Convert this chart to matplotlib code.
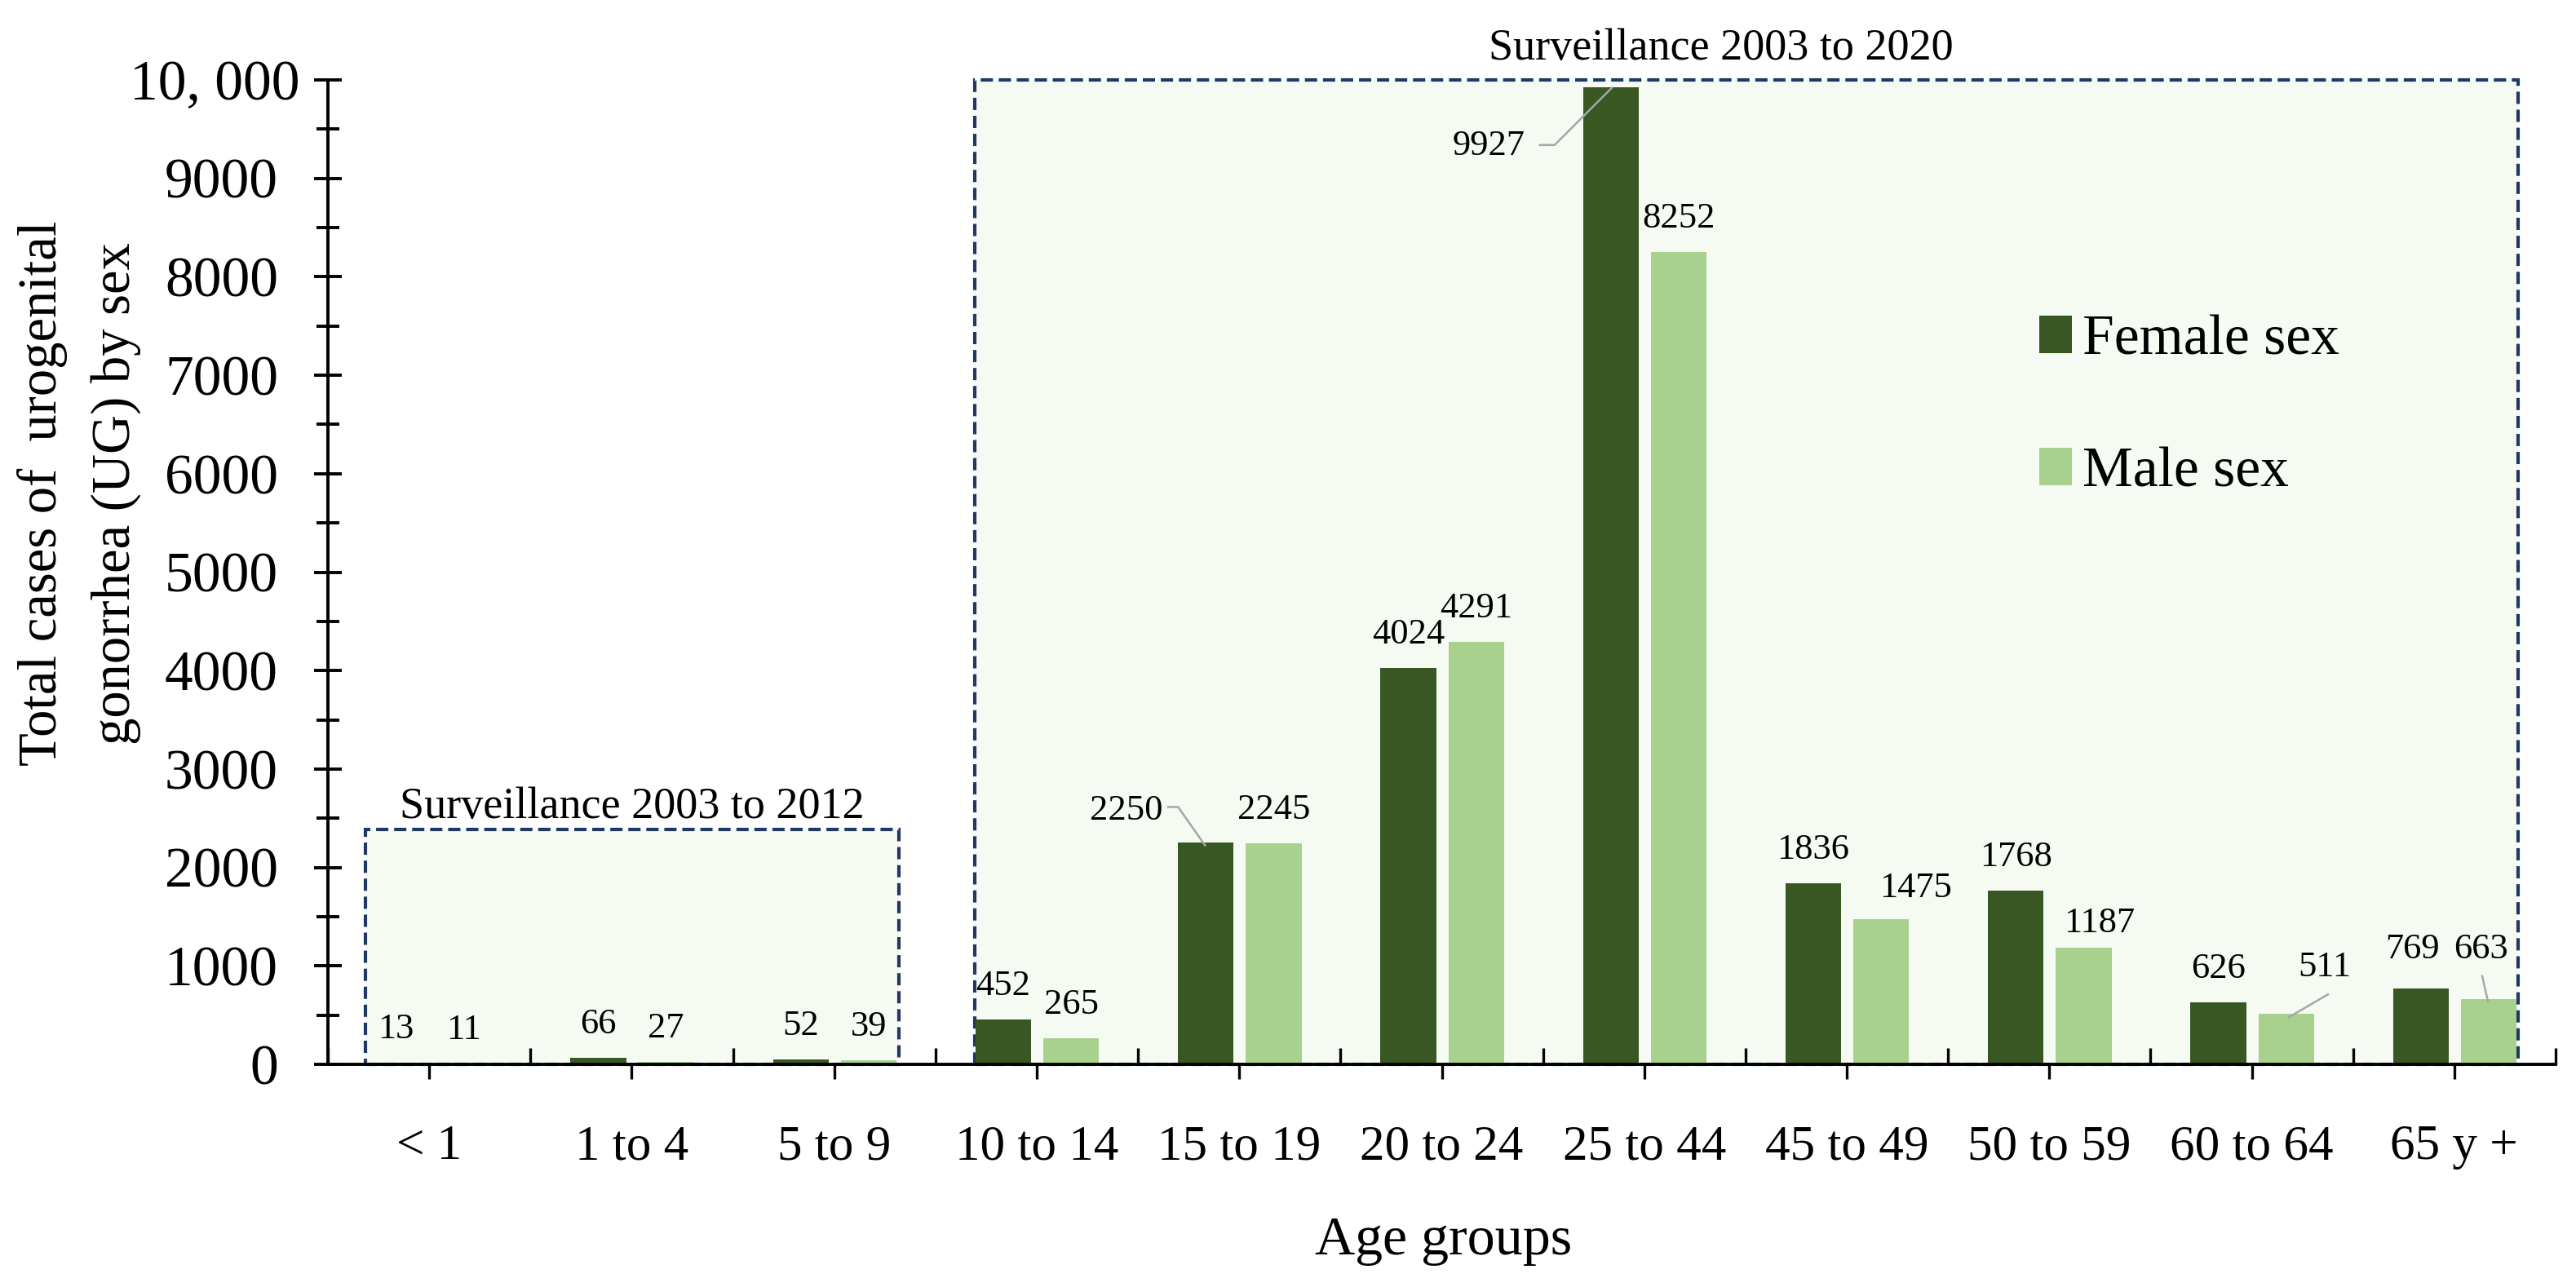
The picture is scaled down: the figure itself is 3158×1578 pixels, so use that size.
import matplotlib
matplotlib.use('Agg')
import matplotlib.pyplot as plt
import matplotlib.transforms as mtransforms
from matplotlib.patches import Rectangle
from matplotlib.lines import Line2D
from matplotlib.ticker import FixedLocator, MultipleLocator
import numpy as np

plt.rcParams['font.family'] = ['Liberation Serif', 'DejaVu Serif']

# ---------------- data ----------------
categories = ['< 1', '1 to 4', '5 to 9', '10 to 14', '15 to 19', '20 to 24',
              '25 to 44', '45 to 49', '50 to 59', '60 to 64', '65 y +']
female = [13, 66, 52, 452, 2250, 4024, 9927, 1836, 1768, 626, 769]
male = [11, 27, 39, 265, 2245, 4291, 8252, 1475, 1187, 511, 663]
yticks = [0, 1000, 2000, 3000, 4000, 5000, 6000, 7000, 8000, 9000, 10000]
ytick_labels = ['0', '1000', '2000', '3000', '4000', '5000', '6000', '7000',
                '8000', '9000', '10, 000']
series_names = ['Female sex', 'Male sex']
box_titles = ['Surveillance 2003 to 2012', 'Surveillance 2003 to 2020']

# ---------------- style ----------------
F_COLOR = '#385723'
M_COLOR = '#A9D18E'
BOX_EDGE = '#1F3864'
BOX_FILL = '#F5FAF2'
LEADER = '#A6A6A6'

DPI = 200
W, H = 3158, 1578
PT = 72.0 / DPI  # points per pixel

fig = plt.figure(figsize=(W / DPI, H / DPI), dpi=DPI)
fig.patch.set_facecolor('white')
ax = fig.add_axes([402 / W, 1 - 1305 / H, (3133 - 402) / W, (1305 - 98) / H])
ax.set_facecolor('none')

x = np.arange(len(categories))
off_f, off_m, bw = -0.165, 0.17, 0.275
ax.bar(x + off_f, female, bw, color=F_COLOR, zorder=3, label=series_names[0])
ax.bar(x + off_m, male, bw, color=M_COLOR, zorder=3, label=series_names[1])

# dashed surveillance boxes
dash = (0, (3.6, 1.7))
ax.add_patch(Rectangle((-0.315, 0), 2.32 + 0.315, 2390, facecolor=BOX_FILL,
                       edgecolor=BOX_EDGE, lw=1.5, linestyle=dash, zorder=1,
                       clip_on=False))
ax.add_patch(Rectangle((2.694, 0), 10.313 - 2.694, 10000, facecolor=BOX_FILL,
                       edgecolor=BOX_EDGE, lw=1.5, linestyle=dash, zorder=1,
                       clip_on=False))
ax.text((-0.315 + 2.32) / 2, 2502, box_titles[0], ha='center', va='baseline',
        fontsize=19.5)
ax.text(6.379, 10207, box_titles[1], ha='center', va='baseline', fontsize=19.5)

# value labels: default 30 px above bar top, centered
custom = {
    ('f', 4): (-53, 28, 'right'),
    ('f', 6): (-105, -83, 'right'),
    ('m', 9): (47, 46, 'center'),
    ('m', 10): (-10, 50, 'center'),
    ('f', 10): (-10, 37, 'center'),
    ('m', 7): (42, 27, 'center'),
    ('m', 8): (19, 19, 'center'),
}
leaders = {
    ('f', 4): [(-46, 44), (-34, 44), (-1, -3)],
    ('f', 6): [(-87, -71), (-69, -71), (1, -1)],
    ('m', 9): [(51, 24), (3, -4)],
    ('m', 10): [(-8, 28), (-1, -3)],
}

for key, vals, off in (('f', female, off_f), ('m', male, off_m)):
    for i, v in enumerate(vals):
        dx, dy, ha = custom.get((key, i), (0, 30, 'center'))
        ax.annotate(str(v), xy=(i + off, v), xytext=(dx * PT, dy * PT),
                    textcoords='offset points', ha=ha, va='baseline',
                    fontsize=16, zorder=5)
        if (key, i) in leaders:
            pts = leaders[(key, i)]
            tr = fig.dpi_scale_trans + mtransforms.ScaledTranslation(
                i + off, v, ax.transData)
            ax.add_line(Line2D([p[0] / DPI for p in pts],
                               [p[1] / DPI for p in pts],
                               transform=tr, color=LEADER, lw=0.9,
                               zorder=6, clip_on=False))

# axes limits & ticks
ax.set_xlim(-0.5, len(categories) - 0.5)
ax.set_ylim(0, 10000)
for s in ('top', 'right'):
    ax.spines[s].set_visible(False)
for s in ('left', 'bottom'):
    ax.spines[s].set_linewidth(1.4)
    ax.spines[s].set_zorder(4)

ax.set_yticks(yticks)
ax.set_yticklabels(ytick_labels)
ax.yaxis.set_minor_locator(MultipleLocator(500))
ax.tick_params(axis='y', which='major', direction='inout', length=12,
               width=1.4, labelsize=25, pad=16)
ax.tick_params(axis='y', which='minor', direction='inout', length=10,
               width=1.4)

ax.set_xticks(x)
ax.set_xticklabels(categories)
ax.xaxis.set_minor_locator(FixedLocator(np.arange(-0.5, len(categories), 1.0)))
ax.tick_params(axis='x', which='major', direction='out', length=6.5,
               width=1.2, labelsize=22, pad=20)
ax.tick_params(axis='x', which='minor', direction='in', length=7.2,
               width=1.2)

# the "10, 000" label sits further right
lab = ax.get_yticklabels()[-1]
lab.set_transform(lab.get_transform() +
                  mtransforms.ScaledTranslation(27 / DPI, 0, fig.dpi_scale_trans))

# axis titles
fig.text(97 / W, 1 - 605 / H, 'Total cases of  urogenital\ngonorrhea (UG) by sex',
         rotation=90, ha='center', va='center', multialignment='center',
         fontsize=24, linespacing=1.6)
fig.text(1770 / W, 1 - 1538 / H, 'Age groups', ha='center', va='baseline',
         fontsize=24.5)

# legend
LFS = 25
ax.legend(loc='upper left', bbox_to_anchor=(2500 / W, 1 - 386 / H),
          bbox_transform=fig.transFigure, frameon=False, fontsize=LFS,
          handlelength=40 * PT / LFS, handleheight=45 * PT / LFS,
          handletextpad=13 * PT / LFS, labelspacing=1.42, borderpad=0,
          borderaxespad=0)

fig.savefig('out.png', dpi=DPI)
